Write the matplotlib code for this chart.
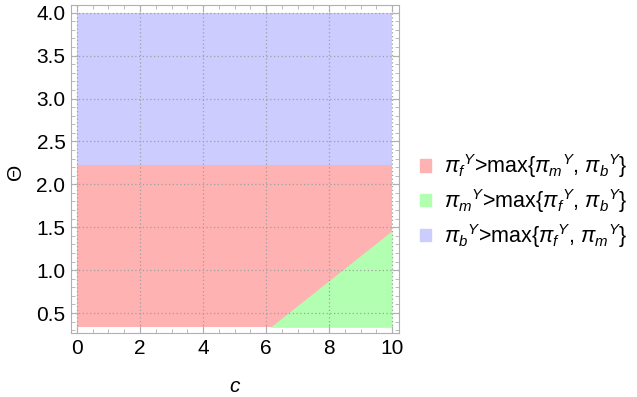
import matplotlib
matplotlib.use("Agg")
import matplotlib.pyplot as plt
from matplotlib.patches import Patch
from matplotlib.ticker import MultipleLocator
import numpy as np

plt.rcParams['font.family'] = ['Liberation Sans', 'DejaVu Sans']
plt.rcParams['mathtext.fontset'] = 'custom'
plt.rcParams['mathtext.rm'] = 'Liberation Sans'
plt.rcParams['mathtext.it'] = 'Liberation Sans:italic'

# region boundaries
c_vals = [0, 6.13, 10]
theta_min = 0.333
theta_max = 4.0
theta_split = 2.22          # red below, blue above
green_top = [0.333, 0.333, 1.46]   # green below this line (for c > 6.13)

labels = [r'$\pi_f{}^Y$>max{$\pi_m{}^Y$, $\pi_b{}^Y$}',
          r'$\pi_m{}^Y$>max{$\pi_f{}^Y$, $\pi_b{}^Y$}',
          r'$\pi_b{}^Y$>max{$\pi_f{}^Y$, $\pi_m{}^Y$}']
colors = ['#ffb2b2', '#b2ffb2', '#ccccff']

fig = plt.figure(figsize=(6.37, 3.97), dpi=100)
ax = fig.add_axes([71/637, 64/397, 328/637, 328/397])

ax.fill_between([0, 10], theta_split, theta_max, color=colors[2], lw=0)
ax.fill_between([0, 10], theta_min, theta_split, color=colors[0], lw=0)
ax.fill_between(c_vals, theta_min, green_top, color=colors[1], lw=0)

ax.set_xlim(-0.19, 10.22)
ax.set_ylim(0.267, 4.09)
ax.xaxis.set_major_locator(MultipleLocator(2))
ax.xaxis.set_minor_locator(MultipleLocator(0.5))
ax.yaxis.set_minor_locator(MultipleLocator(0.1))
ax.set_yticks(np.arange(0.5, 4.01, 0.5))
ax.set_yticklabels([f'{v:.1f}' for v in np.arange(0.5, 4.01, 0.5)])

ax.grid(True, which='major', color='#a0a0a0', ls=(0, (1, 2)), lw=0.9)
ax.set_axisbelow(False)
for s in ax.spines.values():
    s.set_color('#b0b0b0')
ax.tick_params(which='both', direction='in', color='#b0b0b0', labelsize=15,
               top=True, right=True, labeltop=False, labelright=False)
ax.tick_params(which='major', length=5, pad=4)
ax.tick_params(which='minor', length=3)

ax.set_xlabel('c', fontsize=15, style='italic')
ax.xaxis.set_label_coords(0.5, -0.135)
ax.set_ylabel('Θ', fontsize=15, rotation=90, va='center', ha='center')
ax.yaxis.set_label_coords(-0.17, 0.49)

handles = [Patch(color=col) for col in colors]
fig.legend(handles, labels, loc='center left', bbox_to_anchor=(401/637, 196/397),
           frameon=False, fontsize=15.5, handlelength=0.5, handleheight=0.5,
           handletextpad=0.6, labelspacing=0.32)

plt.savefig('out.png', dpi=100)
